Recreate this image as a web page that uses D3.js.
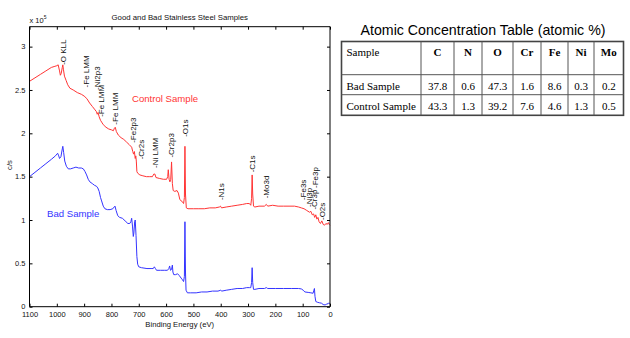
<!DOCTYPE html>
<html>
<head>
<meta charset="utf-8">
<script src="https://cdn.jsdelivr.net/npm/d3@7"></script>
<style>
  html, body { margin: 0; padding: 0; background: #fff; }
  svg { display: block; font-family: "Liberation Sans", Arial, sans-serif; }
  .serif { font-family: "Liberation Serif", "Times New Roman", serif; }
</style>
</head>
<body>
<svg id="chart" width="630" height="338"></svg>
<script>
// XPS survey spectra (binding energy in eV, counts in units of 1e5 c/s)
const controlEnergy = [1100,1080,1060,1040,1020,1010,1000,995,990,987,984,980,978,976,972,966,960,952,940,925,910,900,890,880,870,860,855,852,849,845,840,836,830,820,810,800,793,789,786,782,775,765,755,745,735,726,722,719,716,713,711,709,707,704,696,685,672,660,650,645,641,637,625,610,598,594,592,589,586,583,580,577,574,568,560,555,550,545,540,536,533,531,529,526,520,500,480,460,440,420,405,401,397,380,360,340,320,305,295,290,287,285,283,280,275,260,240,233,228,210,190,170,150,130,115,105,95,85,75,70,65,60,56,52,48,44,40,35,30,25,20,15,10,6,3,0];
const controlCounts = [2.60,2.64,2.68,2.72,2.76,2.77,2.78,2.79,2.72,2.67,2.69,2.76,2.79,2.74,2.66,2.61,2.56,2.52,2.50,2.47,2.45,2.43,2.40,2.35,2.31,2.27,2.25,2.22,2.24,2.19,2.15,2.13,2.10,2.07,2.05,2.04,2.03,2.06,2.07,2.02,1.98,1.95,1.93,1.90,1.87,1.84,1.79,1.76,1.79,1.71,1.74,1.68,1.56,1.54,1.52,1.51,1.50,1.50,1.50,1.53,1.53,1.49,1.48,1.47,1.47,1.50,1.58,1.47,1.44,1.47,1.67,1.42,1.34,1.33,1.34,1.31,1.24,1.22,1.21,1.19,1.26,1.85,1.30,1.14,1.13,1.13,1.13,1.13,1.14,1.14,1.15,1.16,1.14,1.15,1.16,1.17,1.18,1.19,1.19,1.17,1.25,1.52,1.30,1.16,1.15,1.16,1.16,1.18,1.16,1.17,1.16,1.16,1.16,1.16,1.15,1.14,1.13,1.11,1.09,1.10,1.06,1.07,1.03,1.06,1.01,1.03,0.98,0.96,0.99,0.95,0.94,0.96,0.95,0.97,0.95,0.94];

const badEnergy = [1100,1080,1060,1040,1020,1005,997,993,990,985,980,978,975,971,965,958,950,940,930,920,910,903,897,891,885,879,870,862,855,850,845,840,836,830,824,815,805,795,790,787,783,777,770,760,750,740,733,729,726,723,720,718,715,713,710,707,704,700,690,670,655,647,643,639,635,620,605,595,590,587,584,580,577,575,572,565,558,552,545,540,536,533,531,529,527,522,510,490,470,450,430,410,400,396,380,360,340,320,305,295,290,287,285,283,280,275,260,240,233,228,200,170,140,115,105,98,92,80,70,62,59,57,55,52,45,38,31,25,18,12,7,4,2,0];
const badCounts = [1.50,1.55,1.60,1.65,1.70,1.74,1.77,1.74,1.71,1.73,1.82,1.85,1.78,1.68,1.62,1.59,1.59,1.60,1.61,1.60,1.60,1.59,1.56,1.52,1.47,1.44,1.42,1.40,1.39,1.37,1.33,1.26,1.22,1.16,1.13,1.12,1.12,1.13,1.15,1.16,1.11,1.05,1.03,1.02,0.99,0.96,0.96,0.98,1.02,0.93,0.81,0.85,0.98,1.00,0.82,0.58,0.49,0.46,0.45,0.44,0.44,0.44,0.46,0.44,0.42,0.42,0.42,0.42,0.44,0.47,0.42,0.43,0.48,0.40,0.37,0.37,0.38,0.36,0.33,0.31,0.29,0.35,0.98,0.40,0.19,0.16,0.16,0.16,0.17,0.17,0.18,0.18,0.19,0.18,0.19,0.20,0.21,0.21,0.22,0.22,0.22,0.28,0.45,0.28,0.20,0.20,0.21,0.21,0.22,0.21,0.21,0.21,0.21,0.21,0.205,0.19,0.17,0.165,0.16,0.155,0.19,0.21,0.12,0.06,0.05,0.045,0.04,0.025,0.02,0.03,0.035,0.045,0.03];

// Peak assignments: label, energy (eV), height of the label's foot (1e5 c/s)
const peakNames   = ["-O KLL","-Fe LMM","-Ni2p3","-Fe LMM","-Fe LMM","-Fe2p3","-Cr2s","-Ni LMM","-Cr2p3","-O1s","-N1s","-C1s","-Mo3d","-Fe3s","-Ni3p","-Cr3p","-Fe3p","-O2s"];
const peakEnergies = [978,893,852,836,787,719,692,641,580,531,399,285,232,98,76,59,55,30];
const peakHeights  = [2.79,2.53,2.50,2.19,2.10,1.89,1.70,1.60,1.72,1.96,1.23,1.55,1.25,1.23,1.15,1.12,1.37,1.00];

const xTicks = [1100,1000,900,800,700,600,500,400,300,200,100,0];
const yTicks = [0,0.5,1,1.5,2,2.5,3];

// Atomic concentration table
const tableTitle = "Atomic Concentration Table (atomic %)";
const elements = ["C","N","O","Cr","Fe","Ni","Mo"];
const sampleNames = ["Bad Sample","Control Sample"];
const badPercent = [37.8,0.6,47.3,1.6,8.6,0.3,0.2];
const controlPercent = [43.3,1.3,39.2,7.6,4.6,1.3,0.5];

const RED = "#ff3434";
const BLUE = "#3434ff";

const svg = d3.select("#chart");

const plot = { left: 29.5, right: 330, top: 26.7, bottom: 306.7 };
const x = d3.scaleLinear().domain([1100, 0]).range([plot.left, plot.right]);
const y = d3.scaleLinear().domain([0, 3.23]).range([plot.bottom, plot.top]);

const g = svg.append("g");

// spectra
const line = d3.line().x(d => x(d[0])).y(d => y(d[1]));
const controlData = d3.zip(controlEnergy, controlCounts);
const badData = d3.zip(badEnergy, badCounts);
g.append("path").datum(controlData).attr("d", line)
  .attr("fill", "none").attr("stroke", RED).attr("stroke-width", 1).attr("stroke-linejoin", "round");
g.append("path").datum(badData).attr("d", line)
  .attr("fill", "none").attr("stroke", BLUE).attr("stroke-width", 1).attr("stroke-linejoin", "round");

// axes with inward ticks on all four sides
const axB = g.append("g").attr("transform", `translate(0,${plot.bottom})`)
  .call(d3.axisBottom(x).tickValues(xTicks).tickSize(-3).tickPadding(5).tickFormat(d3.format("d")));
const axT = g.append("g").attr("transform", `translate(0,${plot.top})`)
  .call(d3.axisTop(x).tickValues(xTicks).tickSize(-3).tickFormat(""));
const axL = g.append("g").attr("transform", `translate(${plot.left},0)`)
  .call(d3.axisLeft(y).tickValues(yTicks).tickSize(-3).tickPadding(4).tickFormat(d3.format("")));
const axR = g.append("g").attr("transform", `translate(${plot.right},0)`)
  .call(d3.axisRight(y).tickValues(yTicks).tickSize(-3).tickFormat(""));
[axB, axT, axL, axR].forEach(a => {
  a.attr("font-family", null).attr("font-size", null);
  a.select(".domain").attr("stroke", "#000").attr("stroke-width", 1);
  a.selectAll(".tick line").attr("stroke", "#000");
  a.selectAll("text").style("font-size", "7.5px").attr("fill", "#111");
});
axL.selectAll("text").attr("dy", "0.3em");
// keep the frame edges as plain straight lines
axT.select(".domain").attr("d", `M${plot.left},0H${plot.right}`);
axB.select(".domain").attr("d", `M${plot.left},0H${plot.right}`);
axL.select(".domain").attr("d", `M0,${plot.top}V${plot.bottom}`);
axR.select(".domain").attr("d", `M0,${plot.top}V${plot.bottom}`);

// titles and labels
g.append("text").attr("x", (plot.left + plot.right) / 2).attr("y", 19.5)
  .attr("text-anchor", "middle").style("font-size", "7.8px").attr("fill", "#111")
  .text("Good and Bad Stainless Steel Samples");
g.append("text").attr("x", (plot.left + plot.right) / 2).attr("y", 327)
  .attr("text-anchor", "middle").style("font-size", "7.7px").attr("fill", "#111")
  .text("Binding Energy (eV)");
g.append("text").attr("transform", "translate(12,165) rotate(-90)")
  .attr("text-anchor", "middle").style("font-size", "7.7px").attr("fill", "#111")
  .text("c/s");
const expo = g.append("text").attr("x", plot.left).attr("y", 22.5)
  .style("font-size", "7.5px").attr("fill", "#111");
expo.append("tspan").text("x 10");
expo.append("tspan").attr("dy", -3.5).style("font-size", "5px").text("5");

// peak assignments, written upward from their foot
g.selectAll("text.peak").data(d3.zip(peakNames, peakEnergies, peakHeights)).join("text")
  .attr("class", "peak")
  .attr("transform", d => `translate(${x(d[1])},${y(d[2])}) rotate(-90)`)
  .attr("dy", "0.35em").style("font-size", "8px").attr("fill", "#111")
  .text(d => d[0]);

// series labels
g.append("text").attr("x", 132).attr("y", 102).style("font-size", "9.6px").attr("fill", RED)
  .text("Control Sample");
g.append("text").attr("x", 47).attr("y", 217).style("font-size", "9.6px").attr("fill", BLUE)
  .text("Bad Sample");

// table
const tbl = svg.append("g");
tbl.append("text").attr("x", 483).attr("y", 35).attr("text-anchor", "middle")
  .style("font-size", "14.2px").attr("fill", "#000").text(tableTitle);

const colEdges = [341.5, 421, 454, 482, 513, 541, 568, 594, 623.5];
const rowEdges = [41.5, 74.7, 94.7, 115.3];

// cell grid
tbl.append("rect").attr("x", colEdges[0]).attr("y", rowEdges[0])
  .attr("width", colEdges[8] - colEdges[0]).attr("height", rowEdges[3] - rowEdges[0])
  .attr("fill", "none").attr("stroke", "#444").attr("stroke-width", 1.6);
colEdges.slice(1, -1).forEach(cx => {
  tbl.append("line").attr("x1", cx).attr("x2", cx).attr("y1", rowEdges[0]).attr("y2", rowEdges[3])
    .attr("stroke", "#555").attr("stroke-width", 1);
});
rowEdges.slice(1, -1).forEach(ry => {
  tbl.append("line").attr("x1", colEdges[0]).attr("x2", colEdges[8]).attr("y1", ry).attr("y2", ry)
    .attr("stroke", "#555").attr("stroke-width", 1);
});

// header
tbl.append("text").attr("class", "serif").attr("x", colEdges[0] + 5).attr("y", 56.3)
  .style("font-size", "11px").text("Sample");
tbl.selectAll("text.el").data(elements).join("text").attr("class", "el serif")
  .attr("x", (d, i) => (colEdges[i + 1] + colEdges[i + 2]) / 2).attr("y", 56.3)
  .attr("text-anchor", "middle").style("font-size", "11px")
  .style("font-weight", "bold").text(d => d);

// body rows
const rows = [badPercent, controlPercent];
rows.forEach((vals, r) => {
  const by = rowEdges[r + 1] + 15;
  tbl.append("text").attr("class", "serif").attr("x", colEdges[0] + 5).attr("y", by)
    .style("font-size", "11px").text(sampleNames[r]);
  tbl.selectAll(null).data(vals).join("text").attr("class", "serif")
    .attr("x", (d, i) => (colEdges[i + 1] + colEdges[i + 2]) / 2).attr("y", by)
    .attr("text-anchor", "middle").style("font-size", "11px")
    .text(d => d3.format(".1f")(d));
});
</script>
</body>
</html>
